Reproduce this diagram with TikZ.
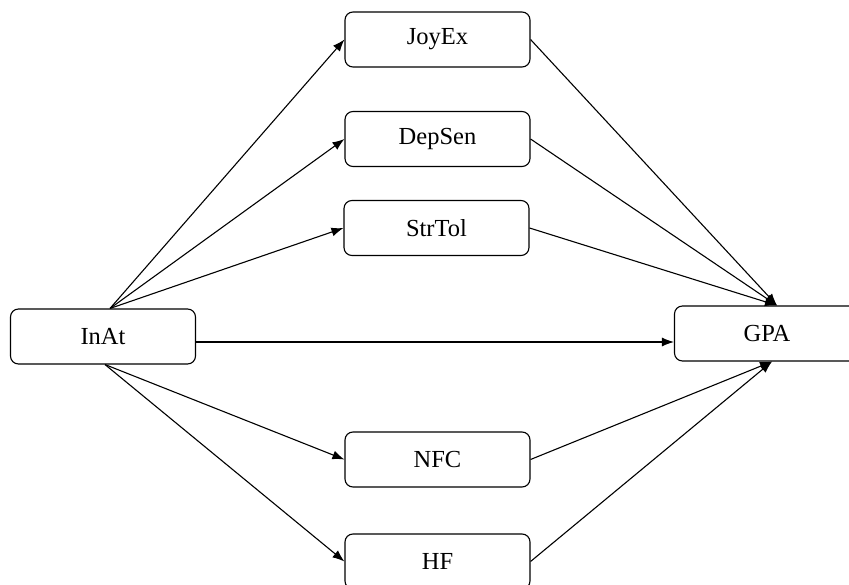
\documentclass[tikz,border=0pt]{standalone}
\usepackage{fontspec}
\setmainfont{Liberation Serif}
\usetikzlibrary{arrows.meta}
\begin{document}
\begin{tikzpicture}[x=1pt,y=-1pt,
  box/.style={draw, line width=1.1pt, rounded corners=8pt, minimum width=185pt, minimum height=55pt, inner sep=0pt, font=\fontsize{24.5}{28}\selectfont},
  conn/.style={line width=1.1pt, -{Latex[length=12pt,width=9pt]}}]
\useasboundingbox (0,0) rectangle (849,585);
\begin{scope}
\clip (0,0) rectangle (849,585);
\node[box] (inat) at (103,336.5) {InAt};
\node[box] (joy) at (437.5,39.5) {JoyEx};
\node[box] (dep) at (437.5,139) {DepSen};
\node[box] (str) at (436.5,228) {StrTol};
\node[box] (gpa) at (767,333.5) {GPA};
\node[box] (nfc) at (437.5,459.5) {NFC};
\node[box] (hf) at (437.5,561.5) {HF};
\end{scope}
\draw[conn] ([xshift=7pt]inat.north) -- (joy.west);
\draw[conn] ([xshift=7pt]inat.north) -- (dep.west);
\draw[conn] ([xshift=7pt]inat.north) -- (str.west);
\draw[conn] ([xshift=2pt]inat.south) -- (nfc.west);
\draw[conn] ([xshift=2pt]inat.south) -- (hf.west);
\draw[conn] ([yshift=-5.5pt]inat.east) -- ([yshift=-8.5pt]gpa.west);
\draw[conn] (joy.east) -- ([xshift=10pt]gpa.north);
\draw[conn] (dep.east) -- ([xshift=10pt]gpa.north);
\draw[conn] (str.east) -- ([xshift=10pt]gpa.north);
\draw[conn] (nfc.east) -- ([xshift=5pt]gpa.south);
\draw[conn] (hf.east) -- ([xshift=5pt]gpa.south);
\end{tikzpicture}
\end{document}
